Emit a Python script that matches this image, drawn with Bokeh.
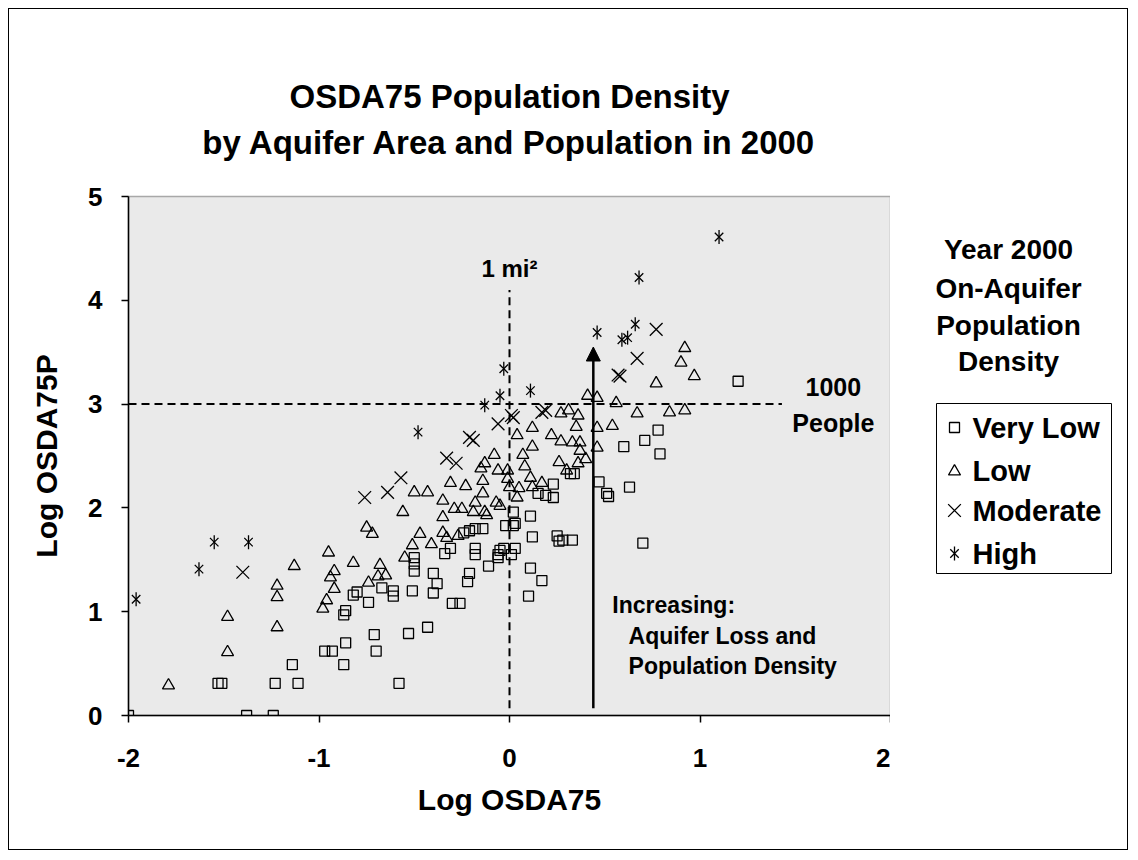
from bokeh.plotting import figure
from bokeh.layouts import row
from bokeh.models import (Range1d, FixedTicker, Label, Arrow, NormalHead, Title)
from bokeh.embed import file_html
from bokeh.resources import INLINE
import math

FONT = "Liberation Sans"

# ---------------- data (log10 values) ----------------
very_low_x = [-2.00, -1.53, -1.51, -1.38, -1.24, -1.23, -1.11, -1.14, -0.97, -0.93,
              -0.86, -0.87, -0.87, -0.86, -0.82, -0.80, -0.74, -0.71, -0.70, -0.67,
              -0.61, -0.61, -0.58, -0.53, -0.51, -0.50, -0.50, -0.50, -0.43, -0.40,
              -0.40, -0.38, -0.34, -0.31, -0.30, -0.26, -0.22, -0.21, -0.24, -0.21,
              -0.18, -0.14, -0.18, -0.18, -0.11, -0.06, -0.05, -0.03, 0.01, 0.03,
              -0.06, -0.02, 0.02, 0.03, 0.02, 0.11, 0.12, 0.11, 0.17, 0.10,
              0.25, 0.26, 0.28, 0.33, 0.15, 0.19, 0.23, 0.23, 0.32, 0.34,
              0.47, 0.51, 0.52, 0.63, 0.70, 0.60, 0.71, 0.78, 0.79, 1.20]
very_low_y = [0.00, 0.31, 0.31, 0.00, 0.00, 0.31, 0.31, 0.49, 0.62, 0.62,
              0.70, 0.49, 0.97, 1.01, 1.16, 1.19, 1.09, 0.78, 0.62, 1.23,
              1.20, 1.15, 0.31, 0.79, 1.20, 1.52, 1.46, 1.39, 0.85, 1.37,
              1.18, 1.27, 1.56, 1.61, 1.08, 1.08, 1.29, 1.37, 1.76, 1.78,
              1.80, 1.80, 1.61, 1.55, 1.44, 1.55, 1.59, 1.61, 1.55, 1.61,
              1.52, 1.83, 1.83, 1.85, 1.96, 1.92, 1.72, 1.42, 1.30, 1.15,
              1.73, 1.68, 1.69, 1.69, 2.14, 2.12, 2.23, 2.10, 2.33, 2.33,
              2.25, 2.14, 2.11, 2.20, 1.66, 2.59, 2.65, 2.75, 2.52, 3.22]

low_x = [-1.79, -1.48, -1.48, -1.22, -1.22, -1.22, -1.13, -0.98, -0.96, -0.94,
         -0.92, -0.92, -0.95, -0.82, -0.75, -0.72, -0.74, -0.69, -0.68, -0.65,
         -0.56, -0.55, -0.51, -0.47, -0.41, -0.50, -0.43, -0.35, -0.35, -0.35,
         -0.33, -0.27, -0.31, -0.23, -0.29, -0.25, -0.19, -0.18, -0.14, -0.13,
         -0.12, -0.07, -0.05, -0.15, -0.13, -0.08, -0.06, -0.14, -0.01, -0.01,
         0.00, 0.04, 0.04, 0.05, 0.12, 0.17, 0.07, 0.08, 0.11, 0.12,
         0.12, 0.22, 0.27, 0.27, 0.31, 0.36, 0.35, 0.33, 0.37, 0.37,
         0.40, 0.36, 0.26, 0.30, 0.41, 0.46, 0.56, 0.67, 0.84, 0.92,
         0.54, 0.46, 0.46, 0.77, 0.92, 0.90, 0.97]
low_y = [0.29, 0.95, 0.61, 1.25, 1.14, 0.85, 1.44, 1.03, 1.11, 1.33,
         1.39, 1.22, 1.57, 1.47, 1.81, 1.75, 1.28, 1.34, 1.45, 1.35,
         1.96, 1.52, 1.64, 1.75, 1.65, 2.15, 2.15, 2.07, 1.91, 1.76,
         1.71, 1.73, 2.24, 2.21, 1.99, 1.99, 1.96, 2.05, 2.14, 1.96,
         1.93, 2.05, 2.02, 2.38, 2.43, 2.51, 2.36, 2.26, 2.36, 2.28,
         2.20, 2.70, 2.10, 2.19, 2.20, 2.24, 2.51, 2.40, 2.29, 2.77,
         2.59, 2.70, 2.64, 2.91, 2.94, 2.89, 2.78, 2.63, 2.63, 2.55,
         2.47, 2.43, 2.44, 2.36, 3.08, 3.06, 3.01, 2.91, 2.92, 2.94,
         2.79, 2.77, 2.58, 3.20, 3.54, 3.40, 3.27]

moderate_x = [-1.40, -0.76, -0.64, -0.57, -0.33, -0.28, -0.21, -0.19, -0.06, 0.01,
              0.02, 0.17, 0.19, 0.57, 0.58, 0.67, 0.77]
moderate_y = [1.38, 2.10, 2.15, 2.29, 2.48, 2.43, 2.68, 2.65, 2.81, 2.89,
              2.87, 2.92, 2.94, 3.28, 3.27, 3.44, 3.72]

high_x = [-1.96, -1.63, -1.55, -1.37, -0.48, -0.13, -0.05, -0.03, 0.11, 0.46,
          0.59, 0.62, 0.66, 0.68, 1.10]
high_y = [1.12, 1.41, 1.67, 1.67, 2.73, 2.99, 3.08, 3.34, 3.13, 3.69,
          3.62, 3.64, 3.77, 4.22, 4.61]

categories = ["Very Low", "Low", "Moderate", "High"]
legend_title = ["Year 2000", "On-Aquifer", "Population", "Density"]
x_ticks = [-2, -1, 0, 1, 2]
y_ticks = [0, 1, 2, 3, 4, 5]

ref_area = 0.0      # log10(1 mi^2)
ref_people = 3.0    # log10(1000 people)

# ---------------- main figure ----------------
p = figure(width=882, height=842, output_backend="svg", toolbar_location=None,
           title=None, x_range=Range1d(-2, 2), y_range=Range1d(0, 5),
           min_border_left=119, min_border_right=1,
           min_border_top=187, min_border_bottom=136)
p.styles = {"border-left": "1px solid black", "border-top": "1px solid black",
            "border-bottom": "1px solid black"}
p.background_fill_color = "#EAEAEA"
p.border_fill_color = "white"
p.outline_line_color = "#A8A8A8"
p.outline_line_width = 1.5
p.xgrid.visible = False
p.ygrid.visible = False

for ax in (p.xaxis[0], p.yaxis[0]):
    ax.major_label_text_font = FONT
    ax.major_label_text_font_style = "bold"
    ax.major_label_text_font_size = "26px"
    ax.major_label_text_color = "black"
    ax.axis_label_text_font = FONT
    ax.axis_label_text_font_style = "bold"
    ax.axis_label_text_font_size = "30px"
    ax.axis_label_text_color = "black"
    ax.axis_line_width = 1.5
    ax.axis_line_color = "black"
    ax.major_tick_in = 0
    ax.major_tick_out = 7
    ax.major_tick_line_width = 1.5
    ax.minor_tick_line_color = None

p.xaxis[0].ticker = FixedTicker(ticks=x_ticks)
p.yaxis[0].ticker = FixedTicker(ticks=y_ticks)
p.xaxis[0].major_label_overrides = {t: str(t) for t in x_ticks}
p.yaxis[0].major_label_overrides = {t: str(t) for t in y_ticks}
p.xaxis[0].axis_label = "Log OSDA75"
p.yaxis[0].axis_label = "Log OSDA75P"
p.xaxis[0].major_label_standoff = 26
p.yaxis[0].major_label_standoff = 19
p.xaxis[0].axis_label_standoff = 13
p.yaxis[0].axis_label_standoff = 22

# two-line title, stacked outward from the frame: spacer, line 2, line 1
p.add_layout(Title(text=" ", align="center", text_font=FONT,
                   text_font_size="26px", standoff=4), "above")
p.add_layout(Title(text="by Aquifer Area and Population in 2000", align="center",
                   text_font=FONT, text_font_style="bold", text_font_size="33px",
                   text_color="black", standoff=0), "above")
p.add_layout(Title(text="OSDA75 Population Density", align="center",
                   text_font=FONT, text_font_style="bold", text_font_size="33px",
                   text_color="black", standoff=13), "above")

# reference lines
p.segment(x0=[ref_area], y0=[0.07], x1=[ref_area], y1=[4.1],
          line_color="black", line_width=2, line_dash="8 5")
p.segment(x0=[-2], y0=[ref_people], x1=[1.43], y1=[ref_people],
          line_color="black", line_width=2, line_dash="8 5")

# arrow
p.add_layout(Arrow(end=NormalHead(size=14, fill_color="black", line_color="black"),
                   x_start=0.44, y_start=0.07, x_end=0.44, y_end=3.55,
                   line_color="black", line_width=2.5))

# markers
sq_style = dict(marker="square", size=10, fill_alpha=0, line_color="black", line_width=1.3)
tr_style = dict(marker="triangle", size=12, fill_alpha=0, line_color="black", line_width=1.3)
mo_style = dict(marker="x", size=18, line_color="black", line_width=1.3)
h1_style = dict(marker="x", size=12, line_color="black", line_width=1.3)
h2_style = dict(marker="dash", size=14, angle=math.pi / 2, line_color="black", line_width=1.3)

p.scatter(very_low_x, very_low_y, **sq_style)
p.scatter(low_x, low_y, **tr_style)
p.scatter(moderate_x, moderate_y, **mo_style)
p.scatter(high_x, high_y, **h1_style)
p.scatter(high_x, high_y, **h2_style)


def lab(fig, x, y, text, size, align="center"):
    fig.add_layout(Label(x=x, y=y, text=text, text_font=FONT, text_font_style="bold",
                         text_font_size=size, text_align=align, text_baseline="middle",
                         text_color="black"))


lab(p, 0.0, 4.31, "1 mi²", "24px")
lab(p, 1.70, 3.16, "1000", "25px")
lab(p, 1.70, 2.82, "People", "25px")
lab(p, 0.54, 1.06, "Increasing:", "23px", "left")
lab(p, 0.625, 0.77, "Aquifer Loss and", "23px", "left")
lab(p, 0.625, 0.48, "Population Density", "23px", "left")

# ---------------- legend panel (page pixel coordinates, y downward) ----------------
q = figure(width=238, height=842, output_backend="svg", toolbar_location=None,
           title=None, x_range=Range1d(891, 1129), y_range=Range1d(715, 196),
           min_border_left=0, min_border_right=0,
           min_border_top=187, min_border_bottom=136,
           x_axis_location=None, y_axis_location=None)
q.styles = {"border-right": "1px solid black", "border-top": "1px solid black",
            "border-bottom": "1px solid black"}
q.background_fill_color = "white"
q.border_fill_color = "white"
q.outline_line_color = None
q.grid.visible = False

for yy, t in zip([249, 288, 325, 361], legend_title):
    lab(q, 1009, yy, t, "28px")

q.quad(left=[937], right=[1112], top=[403], bottom=[573],
       fill_color="white", line_color="black", line_width=1)
entry_y = [427, 470, 510, 553]
q.scatter([955], [entry_y[0]], **sq_style)
q.scatter([955], [entry_y[1] + 1], **tr_style)
q.scatter([955], [entry_y[2]], **mo_style)
q.scatter([955], [entry_y[3]], **h1_style)
q.scatter([955], [entry_y[3]], **h2_style)
for yy, t in zip(entry_y, categories):
    lab(q, 973, yy, t, "29px", "left")

layout = row(p, q, styles={"margin-left": "8px", "margin-top": "8px"})
open("out.html", "w").write(file_html(layout, INLINE))
